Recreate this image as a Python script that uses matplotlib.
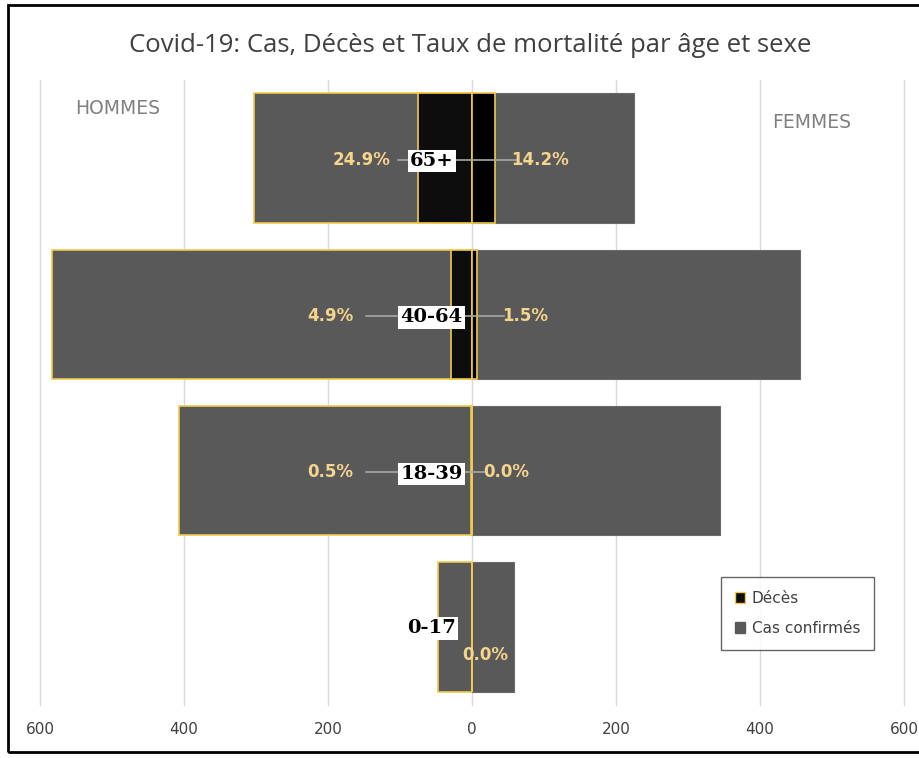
import matplotlib.pyplot as plt
from matplotlib.patches import Rectangle, Patch

ages = ["0-17", "18-39", "40-64", "65+"]
hommes_cas = [47, 407, 583, 303]
femmes_cas = [58, 344, 456, 225]
hommes_deces = [0, 2, 29, 75]
femmes_deces = [0, 0, 7, 32]
taux_h = [None, "0.5%", "4.9%", "24.9%"]
taux_f = ["0.0%", "0.0%", "1.5%", "14.2%"]

# label positions (data units) for the rate texts
pos_h = [None, -197, -197, -153]
pos_f = [18, 47, 74, 94]

gold = "#F2C94C"
grey = "#595959"
black = "#0D0D0D"
txt = "#F5D48C"

fig = plt.figure(figsize=(9.2, 7.58), dpi=100)
ax = fig.add_axes([40 / 920, 1 - 705 / 758, 864 / 920, 625 / 758])

y = list(range(len(ages)))
h = 0.83

ax.barh(y, [-v for v in hommes_cas], height=h, color=grey, edgecolor=gold, linewidth=1.2, zorder=2)
ax.barh(y, femmes_cas, height=h, color=grey, edgecolor="#6a6a6a", linewidth=0.8, zorder=2)
ax.barh(y, [-v for v in hommes_deces], height=h, color=black, edgecolor=gold, linewidth=1.2, zorder=3)
ax.barh(y, femmes_deces, height=h, color="black", edgecolor=gold, linewidth=1.2, zorder=3)

for i, age in enumerate(ages):
    yy = i - 0.01
    if taux_h[i] is not None:
        ax.plot([pos_h[i] + 50, pos_f[i] - 30], [yy, yy], color="#A6A6A6", lw=1.2, zorder=4)
        ax.text(pos_h[i], yy, taux_h[i], color=txt, fontsize=12, fontweight="bold",
                ha="center", va="center", zorder=5)
        ax.text(pos_f[i], yy, taux_f[i], color=txt, fontsize=12, fontweight="bold",
                ha="center", va="center", zorder=5)
        ax.text(-56, yy - 0.01, age, fontsize=14, fontweight="bold", family="DejaVu Serif",
                ha="center", va="center", zorder=6,
                bbox=dict(facecolor="white", edgecolor="none", pad=1.5))
    else:
        ax.text(-56, yy, age, fontsize=14, fontweight="bold", family="DejaVu Serif",
                ha="center", va="center", zorder=6,
                bbox=dict(facecolor="white", edgecolor="none", pad=1.5))
        ax.text(pos_f[i], yy - 0.17, taux_f[i], color=txt, fontsize=12, fontweight="bold",
                ha="center", va="center", zorder=5)

ax.set_xlim(-600, 600)
ax.set_ylim(-0.5, 3.5)
ax.set_xticks([-600, -400, -200, 0, 200, 400, 600])
ax.set_xticklabels(["600", "400", "200", "0", "200", "400", "600"], fontsize=11, color="#404040")
ax.set_yticks([])
ax.tick_params(axis="x", length=0, pad=12)
ax.grid(axis="x", color="#D9D9D9", lw=1, zorder=0)
for g in ax.get_xgridlines():
    g.set_clip_on(False)
for s in ax.spines.values():
    s.set_visible(False)

fig.text(118 / 920, 1 - 108 / 758, "HOMMES", color="#7F7F7F", fontsize=13.5, ha="center", va="center")
fig.text(812 / 920, 1 - 123 / 758, "FEMMES", color="#7F7F7F", fontsize=13.5, ha="center", va="center")
fig.text(470 / 920, 1 - 45 / 758, "Covid-19: Cas, Décès et Taux de mortalité par âge et sexe",
         fontsize=18.5, color="#404040", ha="center", va="center", family="Open Sans")

handles = [Patch(facecolor=black, edgecolor=gold, label="Décès"),
           Patch(facecolor=grey, edgecolor=grey, label="Cas confirmés")]
leg = fig.legend(handles=handles, loc="upper left", bbox_to_anchor=(721 / 920, 1 - 577 / 758),
                 borderaxespad=0, frameon=True, fancybox=False, fontsize=11, handlelength=0.7,
                 handleheight=0.7, labelspacing=1.0, borderpad=0.9, handletextpad=0.4,
                 labelcolor="#404040")
leg.get_frame().set_edgecolor("#404040")

fig.patches.append(Rectangle((8 / 920, 1 - 752 / 758), 1.0, 747 / 758, transform=fig.transFigure,
                             fill=False, edgecolor="black", lw=2))

fig.savefig("out.png", dpi=100)
